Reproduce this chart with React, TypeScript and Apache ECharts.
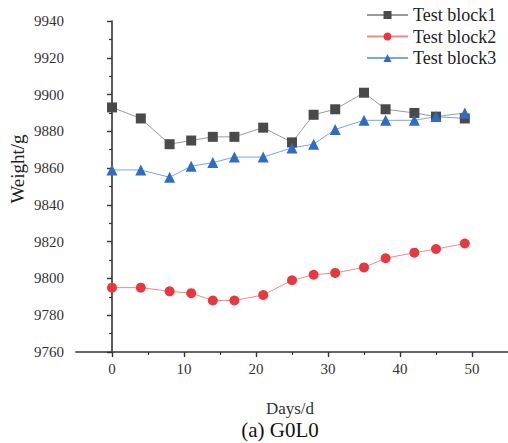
import React, { useEffect, useRef } from "react";
import * as echarts from "echarts";

// Sampling days
const days = [0, 4, 8, 11, 14, 17, 21, 25, 28, 31, 35, 38, 42, 45, 49];

// Weight (g) of each test block
const block1 = [9893, 9887, 9873, 9875, 9877, 9877, 9882, 9874, 9889, 9892, 9901, 9892, 9890, 9888, 9887];
const block2 = [9795, 9795, 9793, 9792, 9788, 9788, 9791, 9799, 9802, 9803, 9806, 9811, 9814, 9816, 9819];
const block3 = [9859, 9859, 9855, 9861, 9863, 9866, 9866, 9871, 9873, 9881, 9886, 9886, 9886, 9888, 9890];

const seriesNames = ["Test block1", "Test block2", "Test block3"];
const xMajorTicks = [0, 10, 20, 30, 40, 50];
const xMinorTicks = [5, 15, 25, 35, 45];

const SERIF = "Liberation Serif";

export default function App() {
  const ref = useRef<HTMLDivElement>(null);

  useEffect(() => {
    if (!ref.current) return;
    const chart = echarts.init(ref.current, undefined, { renderer: "svg" });

    const pair = (ys: number[]) => days.map((d, i) => [d, ys[i]]);
    const styles = [
      { marker: "#4a4a4a", line: "#9a9a9a", symbol: "rect", size: 10 },
      { marker: "#e8383d", line: "#f08a8a", symbol: "circle", size: 10 },
      { marker: "#2f6cc4", line: "#79a6e6", symbol: "triangle", size: 11 },
    ];
    const data = [block1, block2, block3];

    chart.setOption({
      animation: false,
      textStyle: { fontFamily: SERIF },
      grid: { left: 76, top: 21, bottom: 91, right: -3 },
      legend: {
        orient: "vertical",
        left: 366,
        top: 6,
        padding: 0,
        itemWidth: 41,
        itemHeight: 10,
        itemGap: 3.5,
        data: seriesNames,
        textStyle: { fontFamily: SERIF, fontSize: 18, color: "#222" },
      },
      xAxis: [
        {
          type: "value",
          min: -5,
          max: 55,
          interval: 5,
          splitLine: { show: false },
          axisLine: { lineStyle: { color: "#333", width: 1.6 } },
          axisTick: {
            inside: false,
            length: 5,
            customValues: xMajorTicks,
            lineStyle: { color: "#333", width: 1.4 },
          },
          axisLabel: {
            customValues: xMajorTicks,
            margin: 9,
            fontFamily: SERIF,
            fontSize: 15,
            color: "#333",
          },
        },
        {
          type: "value",
          min: -5,
          max: 55,
          position: "bottom",
          splitLine: { show: false },
          axisLine: { show: false },
          axisLabel: { show: false },
          axisTick: {
            length: 3,
            customValues: xMinorTicks,
            lineStyle: { color: "#333", width: 1.2 },
          },
        },
      ],
      yAxis: {
        type: "value",
        min: 9760,
        max: 9940,
        interval: 20,
        splitLine: { show: false },
        axisLine: { show: true, lineStyle: { color: "#333", width: 1.6 } },
        axisTick: { show: true, length: 5, lineStyle: { color: "#333", width: 1.4 } },
        minorTick: { show: true, splitNumber: 2, length: 3, lineStyle: { color: "#333", width: 1.2 } },
        axisLabel: {
          margin: 12,
          fontFamily: SERIF,
          fontSize: 15,
          color: "#333",
          formatter: (v: number) => String(v),
        },
      },
      graphic: [
        {
          type: "text",
          x: 17,
          y: 169,
          rotation: Math.PI / 2,
          style: {
            text: "Weight/g",
            font: `19px ${SERIF}`,
            fill: "#222",
            align: "center",
            verticalAlign: "middle",
          },
        },
        {
          type: "text",
          x: 290,
          y: 408,
          style: {
            text: "Days/d",
            font: `17px ${SERIF}`,
            fill: "#333",
            align: "center",
            verticalAlign: "middle",
          },
        },
        {
          type: "text",
          x: 280,
          y: 430,
          style: {
            text: "(a) G0L0",
            font: `21px ${SERIF}`,
            fill: "#111",
            align: "center",
            verticalAlign: "middle",
          },
        },
      ],
      series: seriesNames.map((name, i) => ({
        name,
        type: "line",
        xAxisIndex: 0,
        data: pair(data[i]),
        symbol: styles[i].symbol,
        symbolSize: styles[i].size,
        itemStyle: { color: styles[i].marker },
        lineStyle: { color: styles[i].line, width: 1 },
      })),
    });

    return () => chart.dispose();
  }, []);

  return (
    <div
      ref={ref}
      style={{ position: "fixed", left: 0, top: 0, width: 508, height: 443, background: "#fff" }}
    />
  );
}
